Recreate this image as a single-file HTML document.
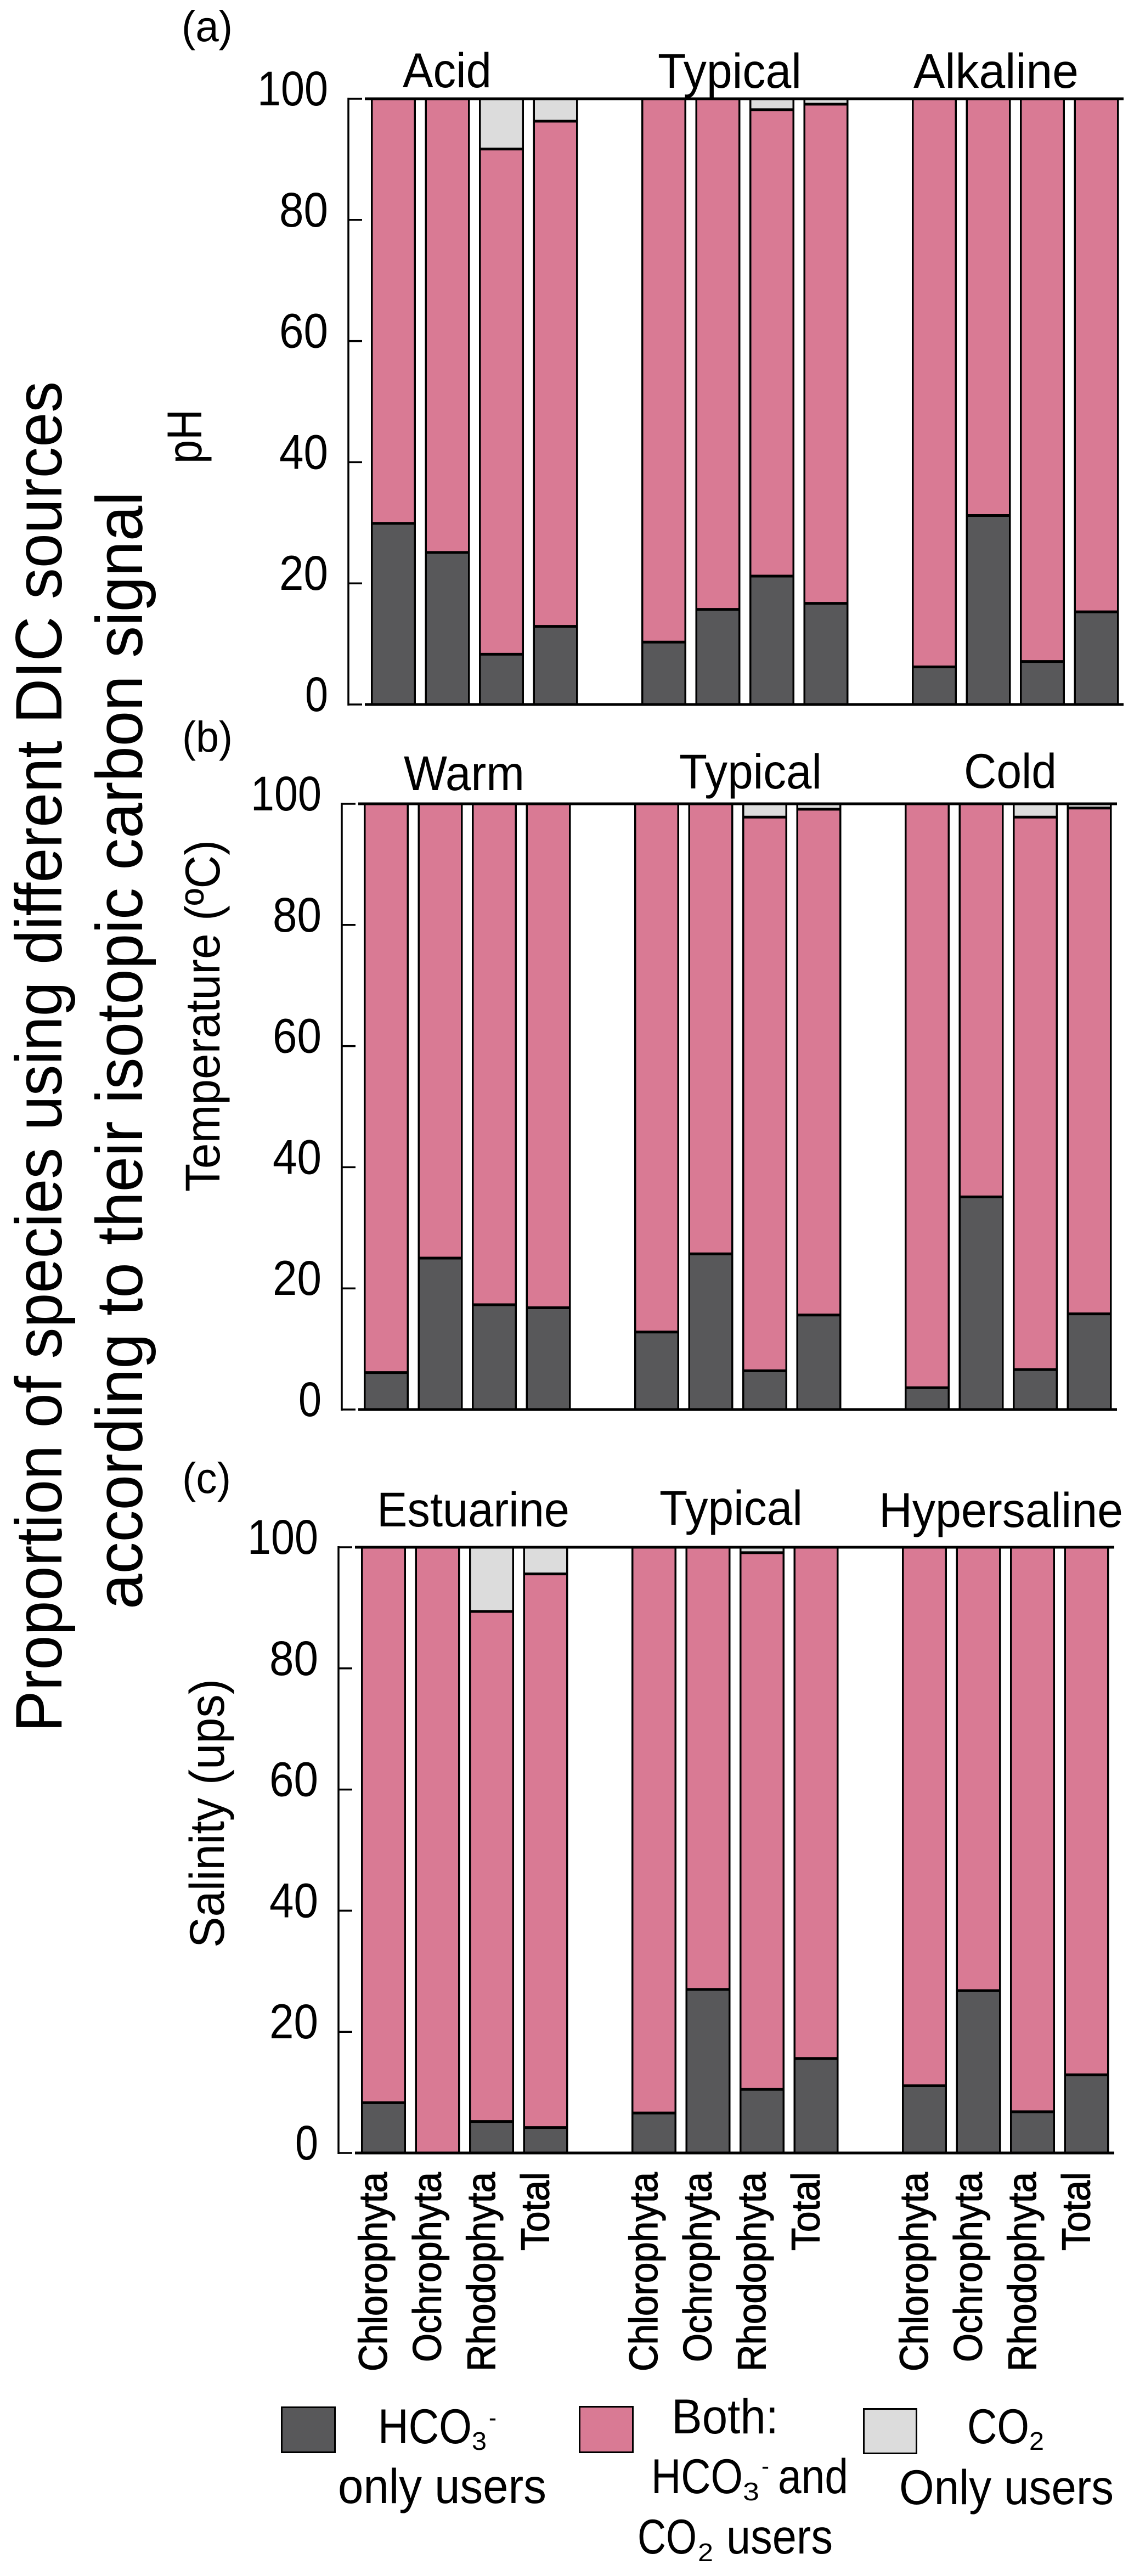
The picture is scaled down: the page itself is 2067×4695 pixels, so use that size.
<!DOCTYPE html>
<html lang="en">
<head>
<meta charset="utf-8">
<title>Proportion of species using different DIC sources</title>
<style>
  html, body { margin: 0; padding: 0; background: #ffffff; }
  svg { display: block; }
  text { font-family: "Liberation Sans", "DejaVu Sans", sans-serif; fill: #000000; }
  .big { font-size: 89px; }
  .panel-tag { font-size: 79px; }
  .title { font-size: 120px; }
  .cat { font-size: 72px; stroke: #000000; stroke-width: 1.4px; }
  .small { font-size: 46px; }
</style>
</head>
<body>
<svg id="chart" xmlns="http://www.w3.org/2000/svg" width="2067" height="4695" viewBox="0 0 2067 4695">
  <rect x="0" y="0" width="2067" height="4695" fill="#ffffff"/>

  <text class="title" transform="translate(112 3157) rotate(-90)" textLength="2462" lengthAdjust="spacingAndGlyphs">Proportion of species using different DIC sources</text>
  <text class="title" transform="translate(259 2933) rotate(-90)" textLength="2037" lengthAdjust="spacingAndGlyphs">according to their isotopic carbon signal</text>

  <text class="panel-tag" x="331" y="75" textLength="93" lengthAdjust="spacingAndGlyphs">(a)</text>
  <text class="panel-tag" x="332" y="1370" textLength="92" lengthAdjust="spacingAndGlyphs">(b)</text>
  <text class="panel-tag" x="332" y="2721" textLength="89" lengthAdjust="spacingAndGlyphs">(c)</text>

  <text class="big" transform="translate(367 845) rotate(-90)" textLength="99" lengthAdjust="spacingAndGlyphs">pH</text>
  <text class="big" transform="translate(400 2172) rotate(-90)" textLength="641" lengthAdjust="spacingAndGlyphs">Temperature (ºC)</text>
  <text class="big" transform="translate(408 3550) rotate(-90)" textLength="490" lengthAdjust="spacingAndGlyphs">Salinity (ups)</text>

  <text class="big" x="734" y="159" textLength="162" lengthAdjust="spacingAndGlyphs">Acid</text>
  <text class="big" x="1199" y="160" textLength="262" lengthAdjust="spacingAndGlyphs">Typical</text>
  <text class="big" x="1665" y="160" textLength="301" lengthAdjust="spacingAndGlyphs">Alkaline</text>
  <text class="big" x="736" y="1440" textLength="220" lengthAdjust="spacingAndGlyphs">Warm</text>
  <text class="big" x="1238" y="1437" textLength="260" lengthAdjust="spacingAndGlyphs">Typical</text>
  <text class="big" x="1757" y="1436" textLength="169" lengthAdjust="spacingAndGlyphs">Cold</text>
  <text class="big" x="687" y="2782" textLength="351" lengthAdjust="spacingAndGlyphs">Estuarine</text>
  <text class="big" x="1202" y="2779" textLength="261" lengthAdjust="spacingAndGlyphs">Typical</text>
  <text class="big" x="1602" y="2783" textLength="445" lengthAdjust="spacingAndGlyphs">Hypersaline</text>

  <g id="plots"></g>
  <g id="categories"></g>

  <g>
    <g>
      <rect x="513.5" y="4387.5" width="97" height="82" fill="#58585a" stroke="#000" stroke-width="3"/>
      <text class="big" x="689" y="4453" textLength="171" lengthAdjust="spacingAndGlyphs">HCO</text>
      <text class="small" x="860" y="4465" textLength="27" lengthAdjust="spacingAndGlyphs">3</text>
      <text class="small" x="891" y="4422" textLength="14" lengthAdjust="spacingAndGlyphs">-</text>
      <text class="big" x="616" y="4562" textLength="380" lengthAdjust="spacingAndGlyphs">only users</text>
    </g>
    <g>
      <rect x="1056.5" y="4386.5" width="97" height="83" fill="#d97a94" stroke="#000" stroke-width="3"/>
      <text class="big" x="1224" y="4435" textLength="195" lengthAdjust="spacingAndGlyphs">Both:</text>
      <text class="big" x="1187" y="4544" textLength="167" lengthAdjust="spacingAndGlyphs">HCO</text>
      <text class="small" x="1354" y="4557" textLength="30" lengthAdjust="spacingAndGlyphs">3</text>
      <text class="small" x="1388" y="4510" textLength="14" lengthAdjust="spacingAndGlyphs">-</text>
      <text class="big" x="1418" y="4544" textLength="128" lengthAdjust="spacingAndGlyphs">and</text>
      <text class="big" x="1162" y="4654" textLength="108" lengthAdjust="spacingAndGlyphs">CO</text>
      <text class="small" x="1272" y="4668" textLength="28" lengthAdjust="spacingAndGlyphs">2</text>
      <text class="big" x="1324" y="4654" textLength="194" lengthAdjust="spacingAndGlyphs">users</text>
    </g>
    <g>
      <rect x="1574.5" y="4390.5" width="96" height="81" fill="#dcdcdc" stroke="#000" stroke-width="3"/>
      <text class="big" x="1763" y="4453" textLength="113" lengthAdjust="spacingAndGlyphs">CO</text>
      <text class="small" x="1876" y="4465" textLength="27" lengthAdjust="spacingAndGlyphs">2</text>
      <text class="big" x="1639" y="4564" textLength="391" lengthAdjust="spacingAndGlyphs">Only users</text>
    </g>
  </g>
</svg>

<script>
// ---- chart data (percent of species) ----
const categories = ['Chlorophyta', 'Ochrophyta', 'Rhodophyta', 'Total'];
const tickValues = [0, 20, 40, 60, 80, 100];

// pH panel: Acid, Typical, Alkaline groups, four bars each
const phHco3 = [29.9, 25.1, 8.3, 12.9, 10.3, 15.7, 21.2, 16.7, 6.2, 31.2, 7.1, 15.3];
const phCo2  = [0, 0, 8.3, 3.7, 0, 0, 1.8, 0.9, 0, 0, 0, 0];

// Temperature panel: Warm, Typical, Cold groups
const tempHco3 = [6.1, 25, 17.3, 16.8, 12.8, 25.7, 6.4, 15.6, 3.6, 35.1, 6.6, 15.8];
const tempCo2  = [0, 0, 0, 0, 0, 0, 2.2, 0.9, 0, 0, 2.2, 0.7];

// Salinity panel: Estuarine, Typical, Hypersaline groups
const salHco3 = [8.3, 0, 5.2, 4.2, 6.6, 27, 10.5, 15.6, 11.1, 26.8, 6.8, 12.9];
const salCo2  = [0, 0, 10.6, 4.4, 0, 0, 0.9, 0, 0, 0, 0, 0];

// ---- drawing ----
const SVG_NS = 'http://www.w3.org/2000/svg';
const COLORS = { hco3: '#58585a', both: '#d97a94', co2: '#dcdcdc' };
const BAR_WIDTH = 82;
const BAR_STEP = 98.5;
const GROUP_STEP = 493;
const plots = document.getElementById('plots');
const catLayer = document.getElementById('categories');

function make(tag, attrs, parent) {
  const el = document.createElementNS(SVG_NS, tag);
  for (const k in attrs) el.setAttribute(k, attrs[k]);
  parent.appendChild(el);
  return el;
}

function barLeft(panel, index) {
  const group = Math.floor(index / categories.length);
  const within = index % categories.length;
  return panel.firstBar + group * GROUP_STEP + within * BAR_STEP;
}

function valueY(panel, v) {
  return panel.bottom - v * (panel.bottom - panel.top) / 100;
}

function drawPanel(panel, hco3, co2) {
  const g = make('g', {}, plots);
  
  

  hco3.forEach(function (h, i) {
    const left = barLeft(panel, i) + 1.75;
    const w = BAR_WIDTH - 3.5;
    const bar = make('g', {}, g);
    
    

    const y0 = valueY(panel, 0);
    const y1 = valueY(panel, h);
    const y2 = valueY(panel, 100 - co2[i]);
    const y3 = valueY(panel, 100);

    if (co2[i] > 0) {
      const top = make('rect', { x: left, y: y3, width: w, height: y2 - y3, fill: COLORS.co2, stroke: '#000', 'stroke-width': 3.5 }, bar);
      
      
    }
    const mid = make('rect', { x: left, y: y2, width: w, height: y1 - y2, fill: COLORS.both, stroke: '#000', 'stroke-width': 3.5 }, bar);
    
    
    if (h > 0) {
      const low = make('rect', { x: left, y: y1, width: w, height: y0 - y1, fill: COLORS.hco3, stroke: '#000', 'stroke-width': 3.5 }, bar);
      
      
      const edge = make('line', { x1: left - 1, x2: left + w + 1, y1: y1, y2: y1, stroke: '#000', 'stroke-width': 5 }, bar);
      
      
    }
    if (co2[i] > 0) {
      const edge2 = make('line', { x1: left - 1, x2: left + w + 1, y1: y2, y2: y2, stroke: '#000', 'stroke-width': 5 }, bar);
      
      
    }
  });

  // y axis line
  const axis = make('line', { x1: panel.left, x2: panel.left, y1: panel.top - 2, y2: panel.bottom + 2, stroke: '#000', 'stroke-width': 3.5 }, g);
  
  

  // baseline and top line
  [0, 100].forEach(function (v) {
    const rule = make('line', { x1: panel.left + 30, x2: panel.right, y1: valueY(panel, v), y2: valueY(panel, v), stroke: '#000', 'stroke-width': 5 }, g);
    
    
  });

  // ticks and tick labels
  tickValues.forEach(function (v) {
    const y = valueY(panel, v);
    const tick = make('line', { x1: panel.left, x2: panel.left + 25, y1: y, y2: y, stroke: '#000', 'stroke-width': 3.5 }, g);
    
    

    const label = String(v);
    const len = label.length === 3 ? 129 : (label.length === 2 ? 89 : 42);
    const t = make('text', { x: panel.left - 37 - len, y: y + 12, class: 'big', textLength: len, lengthAdjust: 'spacingAndGlyphs' }, g);
    
    
    t.textContent = label;
  });
}

const panelPh = { name: 'ph', top: 180, bottom: 1284, left: 635, firstBar: 676, right: 2048 };
const panelTemp = { name: 'temperature', top: 1465, bottom: 2569, left: 623, firstBar: 663, right: 2036 };
const panelSal = { name: 'salinity', top: 2820, bottom: 3924, left: 617, firstBar: 658, right: 2031 };

drawPanel(panelPh, phHco3, phCo2);
drawPanel(panelTemp, tempHco3, tempCo2);
drawPanel(panelSal, salHco3, salCo2);

// rotated category labels beneath the salinity panel
const CAT_LENGTHS = { Chlorophyta: 363, Ochrophyta: 346, Rhodophyta: 363, Total: 143 };
for (let i = 0; i < categories.length * 3; i++) {
  const name = categories[i % categories.length];
  const bx = barLeft(panelSal, i) + BAR_WIDTH / 2 + 6;
  const t = make('text', {
    transform: 'translate(' + bx + ' 3959) rotate(-90)',
    class: 'cat',
    'text-anchor': 'end',
    textLength: CAT_LENGTHS[name],
    lengthAdjust: 'spacingAndGlyphs'
  }, catLayer);
  
  
  t.textContent = name;
}
</script>
</body>
</html>
